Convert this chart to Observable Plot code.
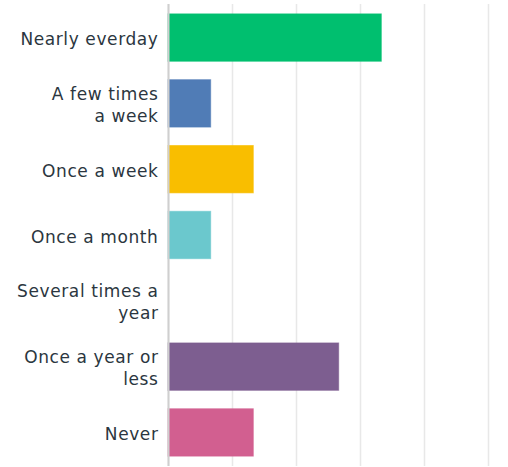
<!DOCTYPE html>
<html>
<head>
<meta charset="utf-8">
<script src="https://cdn.jsdelivr.net/npm/d3@7"></script>
<script src="https://cdn.jsdelivr.net/npm/@observablehq/plot@0.6"></script>
<style>
  html, body { margin: 0; padding: 0; background: #fff; }
  #chart svg { display: block; }
  #chart svg text { letter-spacing: 0.6px; }
</style>
</head>
<body>
<div id="chart"></div>
<script>
const categories = ["Nearly everday", "A few times a week", "Once a week", "Once a month", "Several times a year", "Once a year or less", "Never"];
const labels = ["Nearly everday", "A few times\na week", "Once a week", "Once a month", "Several times a\nyear", "Once a year or\nless", "Never"];
const values = [33.33, 6.67, 13.33, 6.67, 0, 26.67, 13.33];
const colors = ["#00BF6F", "#507CB6", "#F9BE00", "#6BC8CD", "#999999", "#7D5E90", "#D25F90"];
const gridTicks = [0, 10, 20, 30, 40, 50];

const data = categories.map((c, i) => ({category: c, label: labels[i], value: values[i], color: colors[i]}));

const chart = Plot.plot({
  width: 508,
  height: 467,
  marginLeft: 168,
  marginRight: 20,
  marginTop: 4,
  marginBottom: 1,
  style: {fontFamily: "'DejaVu Sans', sans-serif", background: "#fff"},
  x: {domain: [0, 50], axis: null},
  y: {domain: categories, axis: null, paddingInner: 0.28, paddingOuter: 0.15, round: false},
  marks: [
    Plot.ruleX(gridTicks, {stroke: "#e8e8e8", strokeWidth: 1.5}),
    Plot.barX(data, {y: "category", x: "value", fill: "color", stroke: "color", strokeOpacity: 0.6, strokeWidth: 1}),
    Plot.ruleX([0], {stroke: "#cfcfcf", strokeWidth: 2}),
    Plot.text(data, {y: "category", x: 0, text: "label", dx: -10, textAnchor: "end", lineAnchor: "middle", lineHeight: 1.3, fontSize: 17, fill: "#2b3640"})
  ]
});
document.getElementById("chart").appendChild(chart);
</script>
</body>
</html>
